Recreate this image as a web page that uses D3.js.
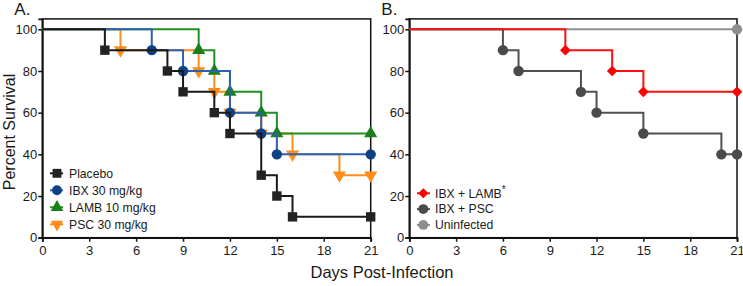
<!DOCTYPE html>
<html lang="en">
<head>
<meta charset="UTF-8">
<title>Survival curves</title>
<script src="https://d3js.org/d3.v7.min.js"></script>
<style>
  body { margin: 0; background: #fff; }
  text { font-family: "Liberation Sans", Arial, sans-serif; fill: #1a1a1a; }
</style>
</head>
<body>
<div id="chart"></div>
<script>
// tick labels
const dayTicks = [0, 3, 6, 9, 12, 15, 18, 21];
const survTicks = [0, 20, 40, 60, 80, 100];

// panel A
const placeboDays = [0, 4, 8, 9, 11, 12, 14, 15, 16, 21];
const placeboSurv = [100, 90, 80, 70, 60, 50, 30, 20, 10, 10];
const ibxDays = [0, 7, 9, 12, 14, 15, 21];
const ibxSurv = [100, 90, 80, 60, 50, 40, 40];
const lambDays = [0, 10, 11, 12, 14, 15, 21];
const lambSurv = [100, 90, 80, 70, 60, 50, 50];
const pscDays = [0, 5, 10, 11, 12, 14, 16, 19, 21];
const pscSurv = [100, 90, 80, 70, 60, 50, 40, 30, 30];

// panel B
const ibxLambDays = [0, 10, 13, 15, 21];
const ibxLambSurv = [100, 90, 80, 70, 70];
const ibxPscDays = [0, 6, 7, 11, 12, 15, 20, 21];
const ibxPscSurv = [100, 90, 80, 70, 60, 50, 40, 40];
const uninfDays = [0, 21];
const uninfSurv = [100, 100];

const width = 743, height = 286;
const yTop = 18.9, yBottom = 237.7;

const svg = d3.select("#chart").append("svg")
    .attr("width", width)
    .attr("height", height);

const diamond = { draw(ctx, size) { const r = Math.sqrt(size) / 2 * 1.35; ctx.moveTo(0, -r); ctx.lineTo(r, 0); ctx.lineTo(0, r); ctx.lineTo(-r, 0); ctx.closePath(); } };

const panels = [
  {
    label: "A.", x0: 42.3, x1: 370.7,
    legend: { x: 57, y: 173.3, step: 17, lineFrom: 50, lineTo: 63, textX: 69 },
    // legend order
    series: [
      { name: "Placebo", days: placeboDays, surv: placeboSurv, line: "#1a1a1a", fill: "#222", sym: d3.symbolSquare, size: 88, rot: 0 },
      { name: "IBX 30 mg/kg", days: ibxDays, surv: ibxSurv, line: "#2b62b0", fill: "#0f4284", sym: d3.symbolCircle, size: 85, rot: 0 },
      { name: "LAMB 10 mg/kg", days: lambDays, surv: lambSurv, line: "#229022", fill: "#1b7f1b", sym: d3.symbolTriangle, size: 75, rot: 0 },
      { name: "PSC 30 mg/kg", days: pscDays, surv: pscSurv, line: "#ff8c1a", fill: "#ff8c1a", sym: d3.symbolTriangle, size: 75, rot: 180 }
    ]
  },
  {
    label: "B.", x0: 409.3, x1: 737,
    legend: { x: 423.3, y: 193.3, step: 15.8, lineFrom: 417, lineTo: 430, textX: 435 },
    series: [
      { name: "IBX + LAMB", sup: "*", days: ibxLambDays, surv: ibxLambSurv, line: "#ff1010", fill: "#ff0000", sym: diamond, size: 62, rot: 0 },
      { name: "IBX + PSC", days: ibxPscDays, surv: ibxPscSurv, line: "#505050", fill: "#4a4a4a", sym: d3.symbolCircle, size: 85, rot: 0 },
      { name: "Uninfected", days: uninfDays, surv: uninfSurv, line: "#8e8e8e", fill: "#8e8e8e", sym: d3.symbolCircle, size: 85, rot: 0 }
    ]
  }
];

panels.forEach(p => {
  const x = d3.scaleLinear().domain([0, 21]).range([p.x0, p.x1]);
  const y = d3.scaleLinear().domain([0, 105]).range([yBottom, yTop]);
  const g = svg.append("g");

  // frame
  g.append("rect")
      .attr("x", p.x0).attr("y", yTop)
      .attr("width", p.x1 - p.x0).attr("height", yBottom - yTop)
      .attr("fill", "none").attr("stroke", "#111").attr("stroke-width", 1.5);

  const xAxis = g.append("g")
      .attr("transform", "translate(0," + yBottom + ")")
      .call(d3.axisBottom(x).tickValues(dayTicks).tickSize(4).tickPadding(4));
  const yAxis = g.append("g")
      .attr("transform", "translate(" + p.x0 + ",0)")
      .call(d3.axisLeft(y).tickValues(survTicks).tickSize(4).tickPadding(1));
  [xAxis, yAxis].forEach(a => {
    a.select(".domain").attr("stroke", "#111").attr("stroke-width", 1.8);
    a.selectAll(".tick line").attr("stroke", "#111").attr("stroke-width", 1.5);
    a.selectAll(".tick text").attr("font-size", 13).attr("fill", "#1a1a1a")
        .attr("font-family", "Liberation Sans, Arial, sans-serif");
  });

  g.append("text")
      .attr("x", p.x0 - 28).attr("y", 15)
      .attr("font-size", 17)
      .text(p.label);

  const line = d3.line()
      .x(d => x(d[0]))
      .y(d => y(d[1]))
      .curve(d3.curveStepAfter);

  // draw last legend entry at the bottom, first on top
  p.series.slice().reverse().forEach(s => {
    const pts = s.days.map((d, i) => [d, s.surv[i]]);
    g.append("path")
        .datum(pts)
        .attr("d", line)
        .attr("fill", "none")
        .attr("stroke", s.line)
        .attr("stroke-width", 2);
    g.selectAll(null)
        .data(pts.slice(1))
        .enter().append("path")
        .attr("d", d3.symbol().type(s.sym).size(s.size))
        .attr("transform", d => "translate(" + x(d[0]) + "," + y(d[1]) + ") rotate(" + s.rot + ")")
        .attr("fill", s.fill);
  });

  // legend
  const lg = g.selectAll(".leg")
      .data(p.series)
      .enter().append("g")
      .attr("transform", (d, i) => "translate(0," + (p.legend.y + i * p.legend.step) + ")");
  lg.append("line")
      .attr("x1", p.legend.lineFrom).attr("x2", p.legend.lineTo)
      .attr("stroke", d => d.line).attr("stroke-width", 2);
  lg.append("path")
      .attr("d", d => d3.symbol().type(d.sym).size(d.size * 0.9)())
      .attr("transform", d => "translate(" + p.legend.x + ",0) rotate(" + d.rot + ")")
      .attr("fill", d => d.fill);
  const lt = lg.append("text")
      .attr("x", p.legend.textX).attr("y", 4.3)
      .attr("font-size", 12.2)
      .text(d => d.name);
  lt.filter(d => d.sup).append("tspan")
      .attr("dy", -5).attr("font-size", 10)
      .text(d => d.sup);
});

svg.append("text")
    .attr("transform", "translate(15,132) rotate(-90)")
    .attr("text-anchor", "middle")
    .attr("font-size", 16)
    .text("Percent Survival");

svg.append("text")
    .attr("x", 382).attr("y", 278)
    .attr("text-anchor", "middle")
    .attr("font-size", 16.5)
    .text("Days Post-Infection");
</script>
</body>
</html>
